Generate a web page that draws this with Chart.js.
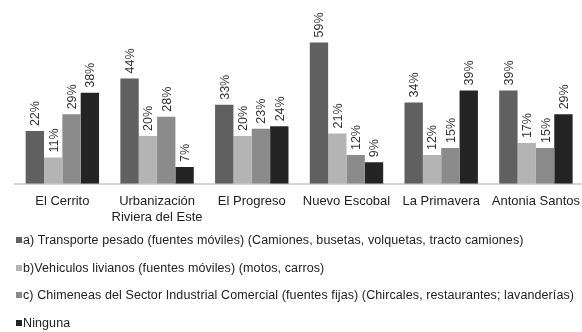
<!DOCTYPE html>
<html>
<head>
<meta charset="utf-8">
<script src="https://cdn.jsdelivr.net/npm/chart.js@4"></script>
<style>
  html, body { margin: 0; padding: 0; background: #fff; overflow: hidden; }
  #wrap { position: absolute; left: 0; top: 0; width: 590px; height: 237px; }
  #legend { position: absolute; left: 16px; top: 231px; font-family: "Liberation Sans", Arial, sans-serif; font-size: 12.5px; letter-spacing: 0.1px; color: #222; }
  .item { height: 27.5px; line-height: 18px; white-space: nowrap; }
  .box { display: inline-block; width: 6px; height: 6px; margin-right: 1px; vertical-align: 1px; }
</style>
</head>
<body>
<div id="wrap"><canvas id="chart"></canvas></div>
<div id="legend"></div>
<script>
const categories = [
  "El Cerrito",
  ["Urbanización", "Riviera del Este"],
  "El Progreso",
  "Nuevo Escobal",
  "La Primavera",
  "Antonia Santos"
];
const seriesNames = [
  "a) Transporte pesado (fuentes móviles) (Camiones, busetas, volquetas, tracto camiones)",
  "b)Vehiculos livianos (fuentes móviles) (motos, carros)",
  "c) Chimeneas del Sector Industrial Comercial (fuentes fijas) (Chircales, restaurantes; lavanderías)",
  "Ninguna"
];
const transportePesado = [22, 44, 33, 59, 34, 39];
const vehiculosLivianos = [11, 20, 20, 21, 12, 17];
const chimeneas = [29, 28, 23, 12, 15, 15];
const ninguna = [38, 7, 24, 9, 39, 29];
const colors = ["#606060", "#b4b4b4", "#8b8b8b", "#242424"];

const seriesValues = [transportePesado, vehiculosLivianos, chimeneas, ninguna];
const fontFamily = "'Liberation Sans', Arial, sans-serif";

// rotated % labels above each bar
const barLabels = {
  id: "barLabels",
  afterDatasetsDraw(chart) {
    const ctx = chart.ctx;
    ctx.save();
    ctx.font = "12.5px " + fontFamily;
    ctx.fillStyle = "#333";
    ctx.textAlign = "left";
    ctx.textBaseline = "middle";
    chart.data.datasets.forEach((ds, i) => {
      chart.getDatasetMeta(i).data.forEach((bar, j) => {
        ctx.save();
        ctx.translate(bar.x + 1, bar.y - 5);
        ctx.rotate(-Math.PI / 2);
        ctx.fillText(ds.data[j] + "%", 0, 0);
        ctx.restore();
      });
    });
    ctx.restore();
  }
};

new Chart(document.getElementById("chart"), {
  type: "bar",
  data: {
    labels: categories,
    datasets: seriesValues.map((vals, i) => ({
      label: seriesNames[i],
      data: vals,
      backgroundColor: colors[i],
      borderWidth: 0,
      barPercentage: 1,
      categoryPercentage: 0.775
    }))
  },
  options: {
    responsive: true,
    maintainAspectRatio: false,
    animation: false,
    layout: { padding: { left: 15, right: 0, top: 9, bottom: 2 } },
    plugins: { legend: { display: false }, tooltip: { enabled: false } },
    scales: {
      y: { display: false, min: 0, max: 73 },
      x: {
        grid: { display: false, drawTicks: false },
        border: { display: true, color: "#d4d4d4", width: 2 },
        ticks: {
          color: "#222",
          padding: 10,
          font: { family: fontFamily, size: 13 },
          maxRotation: 0,
          autoSkip: false
        }
      }
    }
  },
  plugins: [barLabels]
});

const legend = document.getElementById("legend");
seriesNames.forEach((name, i) => {
  const row = document.createElement("div");
  row.className = "item";
  row.innerHTML = '<span class="box" style="background:' + colors[i] + '"></span>' + name;
  legend.appendChild(row);
});
</script>
</body>
</html>
